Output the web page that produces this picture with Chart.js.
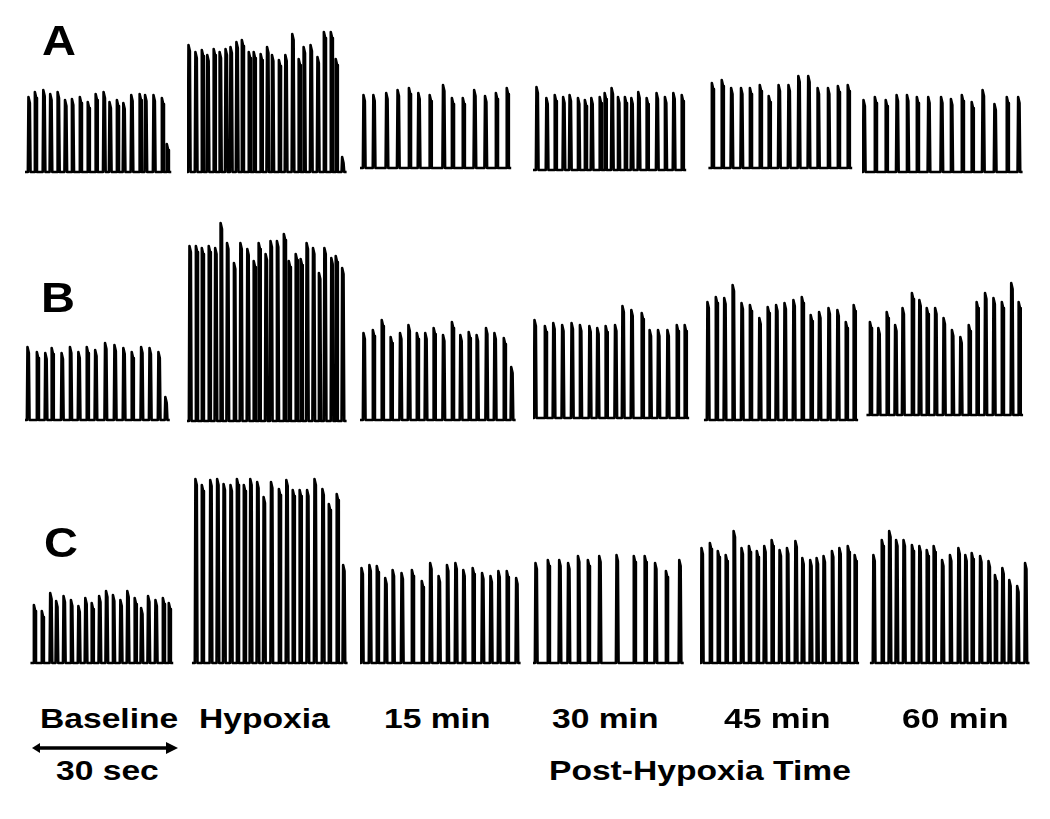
<!DOCTYPE html>
<html>
<head>
<meta charset="utf-8">
<script src="https://cdn.jsdelivr.net/npm/chart.js@4"></script>
<style>
  body { margin: 0; background: #fff; }
  #fig { position: relative; width: 1050px; height: 819px; overflow: hidden; font-family: "Liberation Sans", Arial, sans-serif; }
  #fig canvas { position: absolute; }
  .lbl { position: absolute; font-weight: bold; font-size: 28px; line-height: 1; color: #000; white-space: nowrap; transform: scaleX(1.2); transform-origin: left top; }
  .row { position: absolute; font-weight: bold; font-size: 42px; line-height: 1; color: #000; transform: scaleX(1.12); transform-origin: left top; }
</style>
</head>
<body>
<div id="fig"></div>
<script>

// conditions (columns) and rows
const conditions = ['Baseline', 'Hypoxia', '15 min', '30 min', '45 min', '60 min']
const rowNames = ['A', 'B', 'C']

// burst onset times (sec from start of each 30 s trace) and burst amplitudes (a.u.)
const timesA = [
  [0.7, 2.0, 3.7, 5.1, 6.6, 8.1, 9.5, 11.1, 12.7, 14.3, 15.9, 17.1, 18.6, 19.9, 21.5, 23.2, 24.3, 26.0, 27.7, 28.7],
  [0.3, 1.7, 3.0, 4.1, 5.4, 6.6, 7.8, 8.8, 10.0, 11.1, 12.5, 13.5, 14.9, 16.2, 17.2, 18.6, 19.9, 21.3, 22.6, 23.6, 25.0, 26.4, 27.7, 29.1, 30.1, 31.4],
  [0.7, 2.7, 5.3, 7.6, 9.9, 11.8, 14.1, 16.8, 18.6, 20.8, 23.1, 25.3, 27.5, 29.7],
  [0.7, 2.7, 4.4, 6.1, 7.4, 9.1, 10.5, 11.8, 13.5, 14.5, 15.9, 17.2, 18.6, 19.9, 21.3, 23.0, 25.0, 26.7, 28.4, 30.1],
  [2.4, 4.4, 6.3, 8.3, 10.1, 12.1, 13.9, 15.9, 17.9, 19.9, 21.9, 23.8, 25.9, 27.9, 29.9],
  [0.3, 2.6, 4.8, 7.0, 9.1, 11.1, 13.4, 16.0, 18.0, 20.2, 22.2, 24.4, 26.8, 29.3, 31.6]
]
const ampsA = [
  [75, 80, 82, 78, 80, 72, 73, 75, 70, 78, 80, 70, 72, 69, 77, 78, 77, 77, 74, 28],
  [127, 120, 122, 117, 123, 120, 123, 125, 130, 132, 120, 120, 118, 125, 117, 112, 117, 138, 113, 125, 127, 115, 140, 140, 113, 15],
  [73, 73, 75, 78, 80, 75, 73, 83, 70, 70, 78, 72, 75, 80],
  [83, 72, 75, 73, 75, 72, 70, 72, 73, 77, 82, 73, 73, 72, 78, 72, 77, 73, 77, 75],
  [85, 88, 80, 80, 80, 83, 72, 83, 83, 92, 92, 80, 80, 82, 83],
  [72, 75, 72, 77, 77, 75, 75, 75, 73, 77, 70, 82, 68, 75, 75]
]
const driftA = [0, 0, 4, 2, 4, 0]

const timesB = [
  [0.5, 2.4, 4.1, 5.4, 7.4, 9.1, 10.8, 12.5, 14.2, 16.2, 18.1, 19.9, 21.6, 23.5, 25.2, 27.0, 28.4],
  [0.5, 1.8, 3.0, 4.4, 5.7, 6.8, 8.1, 9.5, 10.8, 12.2, 13.5, 14.5, 15.9, 16.9, 18.2, 19.6, 20.6, 22.0, 23.0, 24.2, 25.5, 26.7, 27.8, 29.2, 30.1, 31.4],
  [0.7, 2.6, 4.4, 6.2, 8.1, 9.8, 11.5, 13.2, 14.9, 16.8, 18.6, 20.3, 22.0, 23.6, 25.5, 27.2, 29.1, 30.6],
  [0.3, 2.4, 4.1, 5.9, 7.8, 9.5, 11.4, 13.0, 14.7, 16.6, 18.1, 19.9, 22.0, 23.6, 25.3, 27.2, 29.1, 30.7],
  [1.5, 3.2, 4.9, 6.6, 8.4, 10.1, 12.0, 13.7, 15.4, 17.1, 18.9, 20.6, 22.4, 24.1, 26.0, 27.8, 29.5, 31.1],
  [1.6, 3.3, 5.0, 6.7, 8.2, 10.1, 11.6, 13.1, 14.8, 16.5, 18.2, 19.9, 21.6, 23.2, 24.9, 26.6, 28.3, 30.2, 31.7]
]
const ampsB = [
  [73, 68, 67, 72, 67, 73, 68, 73, 70, 77, 75, 72, 68, 73, 72, 68, 23],
  [175, 175, 173, 175, 173, 198, 178, 158, 178, 172, 160, 178, 167, 180, 180, 187, 160, 167, 162, 178, 173, 148, 173, 163, 165, 153],
  [87, 90, 100, 83, 87, 95, 87, 87, 92, 85, 98, 85, 88, 85, 92, 87, 82, 53],
  [98, 92, 95, 93, 95, 93, 92, 90, 92, 93, 112, 108, 105, 88, 88, 88, 93, 93],
  [118, 123, 122, 135, 117, 115, 102, 113, 115, 117, 120, 123, 105, 108, 112, 110, 98, 115],
  [93, 87, 103, 90, 107, 122, 115, 107, 107, 97, 85, 78, 90, 113, 122, 117, 113, 132, 113]
]
const driftB = [0, -1, 0, 2, 0, 5]

const timesC = [
  [1.8, 3.4, 5.1, 6.3, 7.8, 9.3, 10.8, 12.2, 13.5, 15.0, 16.4, 17.8, 19.3, 20.7, 22.2, 23.5, 24.9, 26.4, 27.9, 29.1],
  [1.7, 3.0, 4.7, 6.1, 7.4, 8.8, 10.1, 11.5, 12.8, 14.2, 15.5, 17.0, 18.6, 20.1, 21.4, 22.8, 24.3, 25.8, 27.4, 28.7, 30.3, 31.6],
  [0.3, 1.9, 3.4, 5.1, 6.6, 8.4, 10.5, 12.5, 14.2, 15.9, 17.6, 19.3, 20.9, 22.8, 24.7, 26.4, 28.0, 29.7, 31.6],
  [0.5, 3.0, 5.3, 7.1, 9.1, 11.1, 13.4, 16.9, 20.4, 22.6, 24.7, 26.9, 29.6],
  [0.3, 2.0, 3.6, 5.2, 6.8, 8.4, 9.9, 11.5, 13.0, 14.5, 16.1, 17.6, 19.3, 20.7, 22.3, 23.6, 25.0, 26.7, 28.2, 29.9, 31.3],
  [2.3, 4.0, 5.5, 6.9, 8.4, 10.1, 11.6, 13.1, 14.5, 16.2, 17.8, 19.5, 20.9, 22.2, 23.9, 25.6, 26.9, 28.4, 29.8, 31.4, 33.0]
]
const ampsC = [
  [58, 52, 70, 62, 67, 63, 57, 65, 60, 67, 72, 68, 63, 72, 65, 55, 67, 63, 65, 60],
  [184, 178, 183, 184, 179, 178, 184, 178, 184, 181, 166, 181, 174, 183, 173, 173, 173, 184, 174, 159, 169, 98],
  [95, 98, 97, 85, 93, 90, 93, 82, 100, 87, 98, 100, 93, 95, 90, 87, 92, 92, 85],
  [100, 103, 103, 100, 107, 103, 107, 108, 107, 107, 100, 92, 103],
  [115, 120, 112, 108, 132, 115, 117, 112, 117, 123, 113, 115, 122, 105, 103, 105, 107, 112, 115, 117, 108],
  [108, 123, 132, 123, 123, 118, 117, 113, 117, 103, 108, 115, 108, 110, 107, 102, 88, 95, 83, 77, 100]
]
const driftC = [0, 0, 0, 0, 0, 0]

// layout (pixels)
const colLeft = [25, 187, 360, 533, 700, 862]
const rowTop = [20, 218, 473]
const rowMax = [152, 202, 190]
const yMin = -3
const xMax = 34
const pxPerSec = 4.94

const fig = document.getElementById('fig')

// one burst = fast rise, short decrementing top, fall back to baseline
function burstTrace(times, amps, drift) {
    let pts = [{x: times[0] - 0.7, y: drift}]
    for (let i = 0; i < times.length; i++) {
        pts.push({x: times[i] - 0.12, y: drift})
        pts.push({x: times[i], y: drift + amps[i]})
        pts.push({x: times[i] + 0.28, y: drift + amps[i] - 6})
        pts.push({x: times[i] + 0.42, y: drift})
    }
    pts.push({x: times[times.length - 1] + 0.9, y: drift})
    return pts
}

function drawPanel(r, c, times, amps, drift) {
    const canvas = document.createElement('canvas')
    canvas.width = Math.round(xMax * pxPerSec)
    canvas.height = rowMax[r] - yMin
    canvas.style.left = colLeft[c] + 'px'
    canvas.style.top = rowTop[r] + 'px'
    fig.appendChild(canvas)
    new Chart(canvas, {
        type: 'line',
        data: {
            datasets: [{
                label: rowNames[r] + ' ' + conditions[c],
                data: burstTrace(times, amps, drift),
                borderColor: '#000',
                borderWidth: 2.6,
                borderJoinStyle: 'round',
                pointRadius: 0,
                tension: 0,
                clip: false
            }]
        },
        options: {
            responsive: false,
            animation: false,
            layout: { padding: 0 },
            plugins: { legend: { display: false }, tooltip: { enabled: false } },
            scales: {
                x: { type: 'linear', display: false, min: 0, max: xMax },
                y: { display: false, min: yMin, max: rowMax[r] }
            }
        }
    })
}

const allTimes = [timesA, timesB, timesC]
const allAmps = [ampsA, ampsB, ampsC]
const allDrift = [driftA, driftB, driftC]
for (let r = 0; r < 3; r++) {
    for (let c = 0; c < 6; c++) {
        drawPanel(r, c, allTimes[r][c], allAmps[r][c], allDrift[r][c])
    }
}

// text
function addText(cls, txt, left, top) {
    const d = document.createElement('div')
    d.className = cls
    d.textContent = txt
    d.style.left = left + 'px'
    d.style.top = top + 'px'
    fig.appendChild(d)
}
const rowLabelPos = [[42, 20], [41, 277], [44, 522]]
rowNames.forEach((n, i) => addText('row', n, rowLabelPos[i][0], rowLabelPos[i][1]))

const condLeft = [40, 199, 384, 552, 724, 902]
conditions.forEach((n, i) => addText('lbl', n, condLeft[i], 705))
addText('lbl', '30 sec', 56, 757)
addText('lbl', 'Post-Hypoxia Time', 549, 757)

// 30 s scale arrow
fig.insertAdjacentHTML('beforeend',
    '<svg style="position:absolute;left:0;top:0" width="1050" height="819">' +
    '<line x1="38" y1="748" x2="168" y2="748" stroke="#000" stroke-width="3.5"/>' +
    '<polygon points="32,748 40,743 40,753" fill="#000"/>' +
    '<polygon points="178,748 166,742 166,754" fill="#000"/>' +
    '</svg>')
</script>
</body>
</html>
